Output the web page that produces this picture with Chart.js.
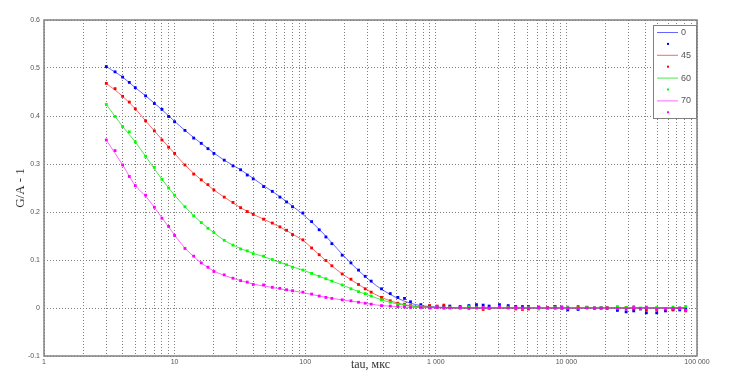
<!DOCTYPE html>
<html>
<head>
<meta charset="utf-8">
<script src="https://cdn.jsdelivr.net/npm/chart.js@4"></script>
<style>
  body { margin: 0; background: #fff; }
  canvas { display: block; }
</style>
</head>
<body>
<canvas id="grafico" width="730" height="386"></canvas>
<script>
// tiempos de correlacion (mks)
const tau = [3, 3.5, 4, 4.5, 5, 6, 7, 8, 9, 10, 12, 14, 16, 18, 20, 24, 28, 32, 36, 40,
  48, 56, 64, 72, 80, 96, 112, 128, 144, 160, 192, 224, 256, 288, 320, 384, 448, 512, 576, 640,
  768, 896, 1024, 1152, 1280, 1536, 1792, 2048, 2304, 2560, 3072, 3584, 4096, 4608, 5120,
  6144, 7168, 8192, 9216, 10240, 12288, 14336, 16384, 18432, 20480, 24576, 28672, 32768, 36864,
  40960, 49152, 57344, 65536, 73728, 81920];

const puntos0 = [0.503, 0.492, 0.481, 0.470, 0.459, 0.442, 0.426, 0.414, 0.399, 0.388, 0.370, 0.354,
  0.343, 0.332, 0.322, 0.308, 0.296, 0.288, 0.277, 0.269, 0.253, 0.243, 0.231, 0.221, 0.211, 0.198,
  0.180, 0.163, 0.148, 0.134, 0.110, 0.094, 0.079, 0.066, 0.056, 0.040, 0.030, 0.022, 0.020, 0.013,
  0.007, 0.004, 0.002, 0.003, 0.004, 0.003, 0.005, 0.007, 0.006, 0.004, 0.007, 0.005, 0.003, 0.003,
  0.003, 0.002, 0.000, 0.003, 0.002, -0.004, -0.003, 0.001, 0.000, 0.000, -0.001, -0.005, -0.008,
  -0.006, -0.002, -0.010, -0.010, -0.006, -0.004, -0.004, -0.003];
const puntos45 = [0.468, 0.457, 0.441, 0.429, 0.415, 0.390, 0.369, 0.350, 0.335, 0.322, 0.298, 0.279,
  0.267, 0.257, 0.246, 0.231, 0.220, 0.209, 0.201, 0.195, 0.185, 0.177, 0.169, 0.162, 0.153, 0.142,
  0.125, 0.111, 0.099, 0.088, 0.071, 0.060, 0.049, 0.040, 0.033, 0.022, 0.015, 0.010, 0.008, 0.005,
  0.003, 0.005, 0.004, 0.006, 0.002, 0.000, 0.003, 0.002, -0.003, -0.001, 0.001, 0.002, -0.002, -0.003,
  -0.002, 0.000, 0.001, 0.000, -0.001, -0.001, 0.003, 0.001, -0.001, 0.000, 0.001, -0.001, 0.001,
  -0.002, -0.001, -0.004, -0.003, -0.002, -0.003, -0.001, -0.006];
const puntos60 = [0.424, 0.399, 0.378, 0.367, 0.346, 0.316, 0.293, 0.268, 0.250, 0.235, 0.211, 0.192,
  0.178, 0.166, 0.157, 0.141, 0.131, 0.123, 0.119, 0.113, 0.108, 0.101, 0.095, 0.090, 0.085, 0.079,
  0.072, 0.066, 0.061, 0.056, 0.048, 0.040, 0.034, 0.030, 0.025, 0.017, 0.012, 0.008, 0.006, 0.004,
  0.003, 0.001, 0.002, 0.000, 0.001, 0.000, 0.002, 0.001, 0.000, -0.001, 0.002, 0.001, 0.000, -0.001,
  0.001, -0.002, 0.000, 0.001, 0.000, 0.002, 0.000, 0.002, 0.000, 0.001, 0.000, 0.003, 0.001,
  0.003, 0.000, 0.002, 0.001, -0.001, 0.002, 0.000, 0.003];
const puntos70 = [0.350, 0.328, 0.298, 0.274, 0.255, 0.235, 0.210, 0.187, 0.170, 0.151, 0.124, 0.108,
  0.094, 0.085, 0.076, 0.069, 0.062, 0.057, 0.054, 0.049, 0.048, 0.043, 0.041, 0.038, 0.036, 0.033,
  0.029, 0.025, 0.022, 0.020, 0.017, 0.015, 0.012, 0.010, 0.008, 0.005, 0.004, 0.003, 0.002, 0.001,
  0.001, 0.000, 0.001, 0.000, 0.000, 0.001, -0.001, 0.000, 0.001, 0.000, 0.002, 0.000, 0.001, 0.000,
  0.000, 0.001, 0.000, 0.000, 0.001, 0.000, -0.001, 0.000, 0.000, 0.000, 0.000, -0.001, -0.002,
  0.001, -0.001, 0.001, -0.002, -0.002, -0.001, 0.000, -0.005];

// curvas de ajuste
const tauAjuste = [3, 4, 5, 6, 8, 10, 12, 16, 20, 24, 32, 40, 48, 64, 80, 96, 128, 160, 192, 256,
  320, 384, 512, 640, 768, 1024, 1536, 2048, 4096, 81920];
const ajuste0 = [0.503, 0.481, 0.459, 0.442, 0.413, 0.389, 0.370, 0.343, 0.323, 0.308, 0.288, 0.270,
  0.255, 0.232, 0.212, 0.195, 0.164, 0.136, 0.112, 0.078, 0.055, 0.039, 0.020, 0.010, 0.005, 0.002,
  0.000, 0.000, 0.000, 0.000];
const ajuste45 = [0.468, 0.441, 0.415, 0.390, 0.351, 0.322, 0.298, 0.267, 0.246, 0.231, 0.209, 0.195,
  0.185, 0.169, 0.154, 0.141, 0.111, 0.088, 0.071, 0.049, 0.033, 0.022, 0.010, 0.005, 0.003, 0.001,
  0.000, 0.000, 0.000, 0.000];
const ajuste60 = [0.424, 0.378, 0.346, 0.316, 0.268, 0.235, 0.211, 0.178, 0.157, 0.141, 0.124, 0.114,
  0.107, 0.095, 0.086, 0.079, 0.066, 0.056, 0.048, 0.034, 0.025, 0.017, 0.008, 0.004, 0.002, 0.001,
  0.000, 0.000, 0.000, 0.000];
const ajuste70 = [0.350, 0.298, 0.255, 0.233, 0.188, 0.152, 0.125, 0.094, 0.077, 0.068, 0.057, 0.050,
  0.046, 0.040, 0.036, 0.032, 0.025, 0.020, 0.017, 0.012, 0.008, 0.005, 0.003, 0.001, 0.001, 0.000,
  0.000, 0.000, 0.000, 0.000];

const series = ['0', '45', '60', '70'];
const colores = ['#0000ff', '#ff0000', '#00ff00', '#ff00ff'];
const coloresLinea = ['rgba(0,0,255,0.6)', 'rgba(255,0,0,0.6)', 'rgba(0,220,0,0.7)', 'rgba(255,0,255,0.6)'];
const decadas = [1, 10, 100, 1000, 10000, 100000];
const etiquetasX = ['1', '10', '100', '1 000', '10 000', '100 000'];
const etiquetasY = ['-0.1', '0', '0.1', '0.2', '0.3', '0.4', '0.5', '0.6'];

function pares(xs, ys) {
  return xs.map((x, i) => ({ x: x, y: ys[i] }));
}

const ajustes = [ajuste0, ajuste45, ajuste60, ajuste70];
const puntos = [puntos0, puntos45, puntos60, puntos70];
const datasets = [];
for (let i = 0; i < series.length; i++) {
  datasets.push({
    label: series[i],
    data: pares(tauAjuste, ajustes[i]),
    showLine: true,
    borderColor: coloresLinea[i],
    borderWidth: 1,
    pointRadius: 0,
    cubicInterpolationMode: 'monotone',
    order: 20 - 2 * i
  });
  datasets.push({
    label: '',
    data: pares(tau, puntos[i]),
    showLine: false,
    backgroundColor: colores[i],
    borderWidth: 0,
    pointStyle: 'rect',
    pointRadius: 2,
    order: 19 - 2 * i
  });
}

// marco y leyenda estilo matlab
const marcoPlugin = {
  id: 'marco',
  afterDraw(chart) {
    const ctx = chart.ctx;
    const a = chart.chartArea;
    ctx.save();
    ctx.strokeStyle = '#808080';
    ctx.lineWidth = 1.5;
    ctx.strokeRect(a.left, a.top, a.right - a.left, a.bottom - a.top);

    // leyenda
    const w = 44, h = 94;
    const lx = a.right - w, ly = a.top + 5;
    ctx.fillStyle = '#fff';
    ctx.fillRect(lx, ly, w, h);
    ctx.strokeStyle = '#808080';
    ctx.lineWidth = 1;
    ctx.strokeRect(lx + 0.5, ly + 0.5, w - 1, h - 1);
    ctx.font = '9px "Liberation Sans", Arial, sans-serif';
    ctx.textBaseline = 'middle';
    chart.data.datasets.forEach((ds, i) => {
      const yy = ly + 7.5 + i * 11.4;
      if (ds.showLine) {
        ctx.strokeStyle = ds.borderColor;
        ctx.beginPath();
        ctx.moveTo(lx + 4, yy);
        ctx.lineTo(lx + 25, yy);
        ctx.stroke();
        ctx.fillStyle = '#555';
        ctx.fillText(ds.label, lx + 28, yy);
      } else {
        ctx.fillStyle = ds.backgroundColor;
        ctx.fillRect(lx + 14, yy - 1, 2, 2);
      }
    });
    ctx.restore();
  }
};

const ctx = document.getElementById('grafico');

new Chart(ctx, {
  type: 'scatter',
  data: { datasets: datasets },
  options: {
    responsive: false,
    animation: false,
    layout: { padding: { top: 20, right: 33, left: 0, bottom: 0 } },
    plugins: {
      legend: { display: false },
      tooltip: { enabled: false }
    },
    scales: {
      x: {
        type: 'logarithmic',
        min: 1,
        max: 100000,
        afterBuildTicks: function (scale) {
          const t = [];
          for (let d = 0; d < decadas.length - 1; d++) {
            for (let m = 1; m < 10; m++) t.push({ value: decadas[d] * m });
          }
          t.push({ value: decadas[decadas.length - 1] });
          scale.ticks = t;
        },
        afterFit: function (scale) { scale.height = 30; },
        ticks: {
          autoSkip: false,
          maxRotation: 0,
          padding: 2,
          color: '#555',
          font: { family: '"Liberation Sans", Arial, sans-serif', size: 7 },
          callback: function (value) {
            const k = decadas.indexOf(value);
            return k >= 0 ? etiquetasX[k] : '';
          }
        },
        grid: { color: '#808080', lineWidth: 1, drawTicks: false },
        border: { display: false, dash: [1, 2] },
        title: {
          display: true,
          text: 'tau, мкс',
          color: '#333',
          font: { family: '"Liberation Serif", "Times New Roman", serif', size: 12 },
          padding: { top: 0, bottom: 14 }
        }
      },
      y: {
        min: -0.1,
        max: 0.6,
        afterFit: function (scale) { scale.width = 44; },
        ticks: {
          stepSize: 0.1,
          padding: 4,
          color: '#555',
          font: { family: '"Liberation Sans", Arial, sans-serif', size: 7 },
          callback: function (value, index) { return etiquetasY[index]; }
        },
        grid: { color: '#808080', lineWidth: 1, drawTicks: false },
        border: { display: false, dash: [1, 2] },
        title: {
          display: true,
          text: 'G/A - 1',
          color: '#333',
          font: { family: '"Liberation Serif", "Times New Roman", serif', size: 13 },
          padding: { top: 13, bottom: 0 }
        }
      }
    }
  },
  plugins: [marcoPlugin]
});
</script>
</body>
</html>
